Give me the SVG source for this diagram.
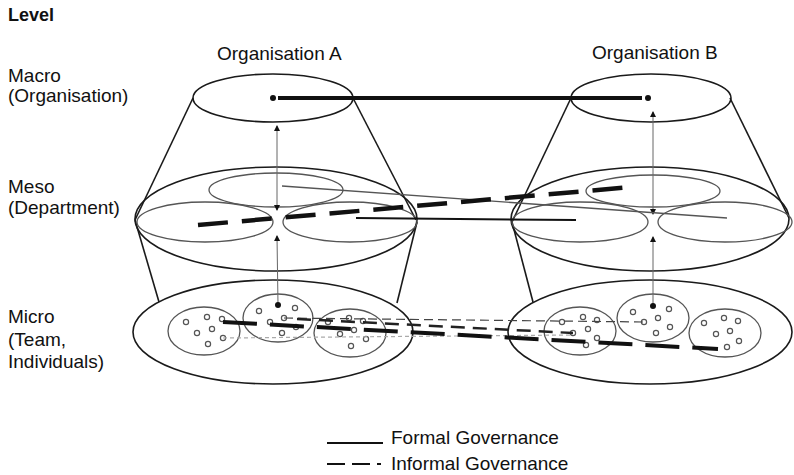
<svg xmlns="http://www.w3.org/2000/svg" width="794" height="475" viewBox="0 0 794 475">
<defs>
<style>
.t{font-family:"Liberation Sans",Arial,sans-serif;font-size:19px;fill:#111}
.b{font-weight:bold;font-size:18px}
.out{fill:none;stroke:#1a1a1a;stroke-width:1.6}
.in{fill:none;stroke:#555;stroke-width:1.3}
.cone{stroke:#1a1a1a;stroke-width:1.6;fill:none}
.p{fill:#fff;stroke:#555;stroke-width:1.2}
.arr{stroke:#666;stroke-width:1}
</style>
<marker id="ah" viewBox="0 0 6 6" refX="5" refY="3" markerWidth="6" markerHeight="6" orient="auto-start-reverse" markerUnits="userSpaceOnUse">
<path d="M0,0 L6,3 L0,6 Z" fill="#111"/>
</marker>
</defs>
<rect width="794" height="475" fill="#fff"/>

<g id="labels">
<text class="t b" x="8" y="21">Level</text>
<text class="t" x="8" y="82">Macro</text>
<text class="t" x="8" y="102">(Organisation)</text>
<text class="t" x="8" y="193">Meso</text>
<text class="t" x="8" y="214">(Department)</text>
<text class="t" x="8" y="323">Micro</text>
<text class="t" x="8" y="346">(Team,</text>
<text class="t" x="8" y="368">Individuals)</text>
<text class="t" x="217" y="60">Organisation A</text>
<text class="t" x="592" y="59">Organisation B</text>
</g>

<g id="orgA">
<line class="cone" x1="193" y1="98" x2="135" y2="220"/>
<line class="cone" x1="353" y1="98" x2="416" y2="220"/>
<line class="cone" x1="135" y1="220" x2="159" y2="302"/>
<line class="cone" x1="417" y1="222" x2="397" y2="303"/>
<ellipse class="out" cx="273" cy="98" rx="80" ry="24" fill="#fff"/>
<ellipse class="out" cx="276" cy="219" rx="141" ry="52"/>
<ellipse class="in" cx="276" cy="190" rx="67" ry="17"/>
<ellipse class="in" cx="205" cy="222" rx="68" ry="20"/>
<ellipse class="in" cx="350" cy="222" rx="67" ry="20"/>
<ellipse class="out" cx="273" cy="332" rx="140" ry="52"/>
<ellipse class="in" cx="204" cy="331" rx="36" ry="24"/>
<ellipse class="in" cx="278" cy="318" rx="35" ry="24"/>
<ellipse class="in" cx="350" cy="333" rx="36" ry="24"/>
<g>
<circle class="p" cx="186" cy="322" r="2.6"/><circle class="p" cx="207" cy="317" r="2.6"/><circle class="p" cx="222" cy="319" r="2.6"/><circle class="p" cx="197" cy="333" r="2.6"/><circle class="p" cx="212" cy="329" r="2.6"/><circle class="p" cx="223" cy="338" r="2.6"/><circle class="p" cx="208" cy="344" r="2.6"/>
<circle class="p" cx="259" cy="311" r="2.6"/><circle class="p" cx="295" cy="308" r="2.6"/><circle class="p" cx="284" cy="318" r="2.6"/><circle class="p" cx="270" cy="322" r="2.6"/><circle class="p" cx="296" cy="327" r="2.6"/><circle class="p" cx="282" cy="333" r="2.6"/>
<circle class="p" cx="328" cy="322" r="2.6"/><circle class="p" cx="349" cy="318" r="2.6"/><circle class="p" cx="363" cy="321" r="2.6"/><circle class="p" cx="354" cy="330" r="2.6"/><circle class="p" cx="340" cy="334" r="2.6"/><circle class="p" cx="366" cy="339" r="2.6"/><circle class="p" cx="351" cy="346" r="2.6"/>
</g>
</g>

<g id="orgB">
<line class="cone" x1="571" y1="98" x2="512" y2="222"/>
<line class="cone" x1="730" y1="98" x2="789" y2="218"/>
<line class="cone" x1="512" y1="222" x2="533" y2="302"/>
<ellipse class="out" cx="651" cy="98" rx="80" ry="24" fill="#fff"/>
<ellipse class="out" cx="650" cy="219" rx="139" ry="52"/>
<ellipse class="in" cx="653" cy="191" rx="67" ry="16"/>
<ellipse class="in" cx="580" cy="222" rx="68" ry="20"/>
<ellipse class="in" cx="725" cy="222" rx="67" ry="20"/>
<ellipse class="out" cx="650" cy="332" rx="142" ry="52"/>
<ellipse class="in" cx="580" cy="331" rx="36" ry="24"/>
<ellipse class="in" cx="653" cy="318" rx="36" ry="24"/>
<ellipse class="in" cx="725" cy="333" rx="36" ry="24"/>
<g>
<circle class="p" cx="562" cy="322" r="2.6"/><circle class="p" cx="583" cy="317" r="2.6"/><circle class="p" cx="597" cy="320" r="2.6"/><circle class="p" cx="588" cy="329" r="2.6"/><circle class="p" cx="573" cy="333" r="2.6"/><circle class="p" cx="597" cy="338" r="2.6"/><circle class="p" cx="586" cy="345" r="2.6"/>
<circle class="p" cx="633" cy="312" r="2.6"/><circle class="p" cx="669" cy="309" r="2.6"/><circle class="p" cx="658" cy="318" r="2.6"/><circle class="p" cx="644" cy="322" r="2.6"/><circle class="p" cx="670" cy="327" r="2.6"/><circle class="p" cx="656" cy="333" r="2.6"/>
<circle class="p" cx="704" cy="323" r="2.6"/><circle class="p" cx="724" cy="318" r="2.6"/><circle class="p" cx="738" cy="321" r="2.6"/><circle class="p" cx="730" cy="331" r="2.6"/><circle class="p" cx="716" cy="334" r="2.6"/><circle class="p" cx="739" cy="341" r="2.6"/><circle class="p" cx="727" cy="347" r="2.6"/>
</g>
</g>

<g id="connectors">
<line class="arr" x1="277" y1="126" x2="277" y2="210" marker-start="url(#ah)" marker-end="url(#ah)"/>
<line class="arr" x1="277" y1="236" x2="278" y2="305" marker-start="url(#ah)"/>
<line class="arr" x1="653" y1="112" x2="653" y2="214" marker-start="url(#ah)" marker-end="url(#ah)"/>
<line class="arr" x1="653" y1="237" x2="653" y2="306" marker-start="url(#ah)"/>
<circle cx="278" cy="305" r="3" fill="#111"/>
<circle cx="653" cy="306" r="3" fill="#111"/>
<line x1="278" y1="98" x2="642" y2="98" stroke="#111" stroke-width="4"/>
<circle cx="273" cy="98" r="3" fill="#111"/>
<circle cx="648" cy="98" r="3" fill="#111"/>
<line x1="282" y1="186" x2="727" y2="218" stroke="#555" stroke-width="1.3"/>
<line x1="198" y1="225" x2="632" y2="187" stroke="#111" stroke-width="4.5" stroke-dasharray="30 14"/>
<line x1="356" y1="218" x2="576" y2="220" stroke="#111" stroke-width="2"/>
<line x1="284" y1="318" x2="645" y2="322" stroke="#444" stroke-width="1.2" stroke-dasharray="9 5"/>
<line x1="223" y1="338" x2="573" y2="335" stroke="#aaa" stroke-width="1.2" stroke-dasharray="4 3"/>
<line x1="297" y1="319" x2="573" y2="333" stroke="#222" stroke-width="2.5" stroke-dasharray="14 8"/>
<line x1="223" y1="322" x2="718" y2="349" stroke="#111" stroke-width="4" stroke-dasharray="34 13"/>
</g>

<g id="legend">
<line x1="327" y1="443" x2="383" y2="443" stroke="#111" stroke-width="2"/>
<text class="t" x="391" y="444">Formal Governance</text>
<line x1="327" y1="464" x2="383" y2="464" stroke="#111" stroke-width="2" stroke-dasharray="18 7 18 7 4 100"/>
<text class="t" x="391" y="470">Informal Governance</text>
</g>
</svg>
